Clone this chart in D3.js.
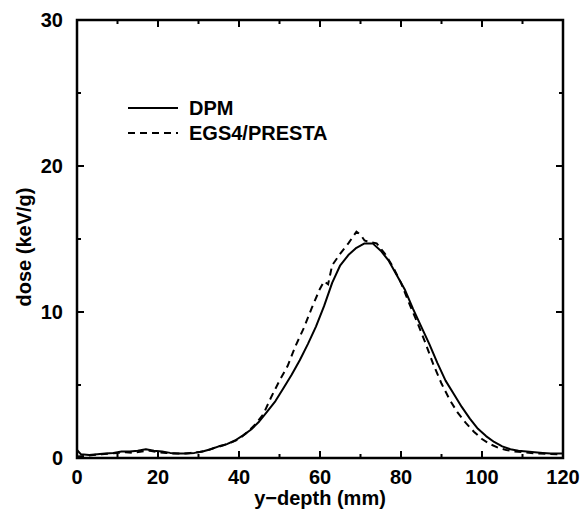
<!DOCTYPE html>
<html>
<head>
<script src="https://d3js.org/d3.v7.min.js"></script>
<style>
  body { margin: 0; background: #fff; font-family: "Liberation Sans", Arial, Helvetica, sans-serif; }
  .tick-label { font-size: 20px; font-weight: bold; }
  .axis-title { font-size: 20px; font-weight: bold; }
</style>
</head>
<body>
<div id="viz"></div>
<script>
// data
const dpmX = [0, 1, 3, 5, 7, 9, 11, 13, 15, 17, 19, 21, 23, 25, 27, 29, 31, 33, 35, 37, 39, 41, 43, 45, 47, 49, 51, 53, 55, 57, 59, 61, 63, 65, 67, 69, 71, 73, 75, 77, 79, 81, 83, 85, 87, 89, 91, 93, 95, 97, 99, 101, 103, 105, 107, 109, 111, 113, 115, 117, 120];
const dpmY = [0.55, 0.25, 0.2, 0.25, 0.3, 0.35, 0.45, 0.45, 0.5, 0.6, 0.5, 0.45, 0.35, 0.3, 0.3, 0.35, 0.45, 0.6, 0.8, 0.95, 1.2, 1.55, 1.95, 2.5, 3.2, 3.9, 4.8, 5.7, 6.7, 7.8, 9.0, 10.4, 12.0, 13.2, 13.9, 14.4, 14.7, 14.7, 14.2, 13.5, 12.5, 11.5, 10.2, 9.0, 7.8, 6.5, 5.3, 4.4, 3.5, 2.7, 2.0, 1.5, 1.1, 0.8, 0.6, 0.5, 0.45, 0.4, 0.35, 0.3, 0.3];

const egsX = [0, 2, 4, 6, 8, 10, 12, 14, 16, 18, 20, 22, 24, 26, 28, 30, 32, 34, 36, 38, 40, 42, 44, 46, 48, 50, 52, 54, 56, 58, 60, 61, 62, 63, 65, 67, 69, 70, 71, 72, 74, 76, 78, 80, 82, 84, 86, 88, 90, 92, 94, 96, 98, 100, 102, 104, 106, 108, 110, 114, 120];
const egsY = [0.1, 0.15, 0.2, 0.25, 0.3, 0.35, 0.4, 0.35, 0.45, 0.5, 0.4, 0.35, 0.3, 0.3, 0.35, 0.4, 0.5, 0.7, 0.85, 1.05, 1.3, 1.75, 2.3, 3.0, 4.2, 5.3, 6.3, 7.7, 8.9, 10.3, 11.6, 12.1, 11.9, 13.2, 14.0, 14.7, 15.5, 15.3, 14.9, 14.8, 14.7, 14.0, 13.1, 12.0, 10.6, 9.3, 7.9, 6.4, 5.1, 4.0, 3.1, 2.4, 1.8, 1.3, 0.95, 0.7, 0.55, 0.45, 0.4, 0.3, 0.25];

const xMajor = [0, 20, 40, 60, 80, 100, 120];
const xMinor = [10, 30, 50, 70, 90, 110];
const yMajor = [0, 10, 20, 30];
const yMinor = [5, 15, 25];

const seriesNames = ["DPM", "EGS4/PRESTA"];

const W = 580, H = 515;
const margin = {top: 20, right: 17, bottom: 57, left: 77};
const width = W - margin.left - margin.right,
      height = H - margin.top - margin.bottom;

const svg = d3.select("#viz").append("svg")
    .attr("width", W)
    .attr("height", H);

const g = svg.append("g")
    .attr("transform", `translate(${margin.left},${margin.top})`);

const x = d3.scaleLinear().domain([0, 120]).range([0, width]);
const y = d3.scaleLinear().domain([0, 30]).range([height, 0]);

// ticks, all pointing inward, on all four sides
const tk = g.append("g").attr("stroke", "#000").attr("stroke-width", 2);
xMajor.concat(xMinor).forEach(v => {
  const len = xMajor.includes(v) ? 7 : 4;
  tk.append("line").attr("x1", x(v)).attr("x2", x(v)).attr("y1", height).attr("y2", height - len);
  tk.append("line").attr("x1", x(v)).attr("x2", x(v)).attr("y1", 0).attr("y2", len);
});
yMajor.concat(yMinor).forEach(v => {
  const len = yMajor.includes(v) ? 7 : 4;
  tk.append("line").attr("x1", 0).attr("x2", len).attr("y1", y(v)).attr("y2", y(v));
  tk.append("line").attr("x1", width).attr("x2", width - len).attr("y1", y(v)).attr("y2", y(v));
});

// tick labels
g.selectAll(".xl").data(xMajor).enter().append("text")
  .attr("class", "tick-label")
  .attr("x", d => x(d))
  .attr("y", height + 26)
  .attr("text-anchor", "middle")
  .text(d => d);

g.selectAll(".yl").data(yMajor).enter().append("text")
  .attr("class", "tick-label")
  .attr("x", -14)
  .attr("y", d => y(d) + 7)
  .attr("text-anchor", "end")
  .text(d => d);

// curves
const line = d3.line().x(d => x(d[0])).y(d => y(d[1]));

g.append("path")
  .datum(dpmX.map((v, i) => [v, dpmY[i]]))
  .attr("fill", "none").attr("stroke", "#000").attr("stroke-width", 2)
  .attr("stroke-linejoin", "round")
  .attr("d", line);

g.append("path")
  .datum(egsX.map((v, i) => [v, egsY[i]]))
  .attr("fill", "none").attr("stroke", "#000").attr("stroke-width", 2)
  .attr("stroke-dasharray", "7,5")
  .attr("d", line);

// frame
g.append("rect")
  .attr("width", width).attr("height", height)
  .attr("fill", "none").attr("stroke", "#000").attr("stroke-width", 2.5);

// legend
const leg = g.append("g");
seriesNames.forEach((name, i) => {
  const ly = 88 + i * 25;
  leg.append("line")
    .attr("x1", 51).attr("x2", 101).attr("y1", ly).attr("y2", ly)
    .attr("stroke", "#000").attr("stroke-width", 2)
    .attr("stroke-dasharray", i === 1 ? "7,5" : null);
  leg.append("text")
    .attr("class", "axis-title")
    .attr("x", 112).attr("y", ly + 7)
    .text(name);
});

// axis titles
svg.append("text")
  .attr("class", "axis-title")
  .attr("x", margin.left + width / 2)
  .attr("y", 505)
  .attr("text-anchor", "middle")
  .text("y\u2212depth (mm)");

svg.append("text")
  .attr("class", "axis-title")
  .attr("transform", `translate(31,${margin.top + height / 2 + 8}) rotate(-90)`)
  .attr("text-anchor", "middle")
  .text("dose (keV/g)");
</script>
</body>
</html>
